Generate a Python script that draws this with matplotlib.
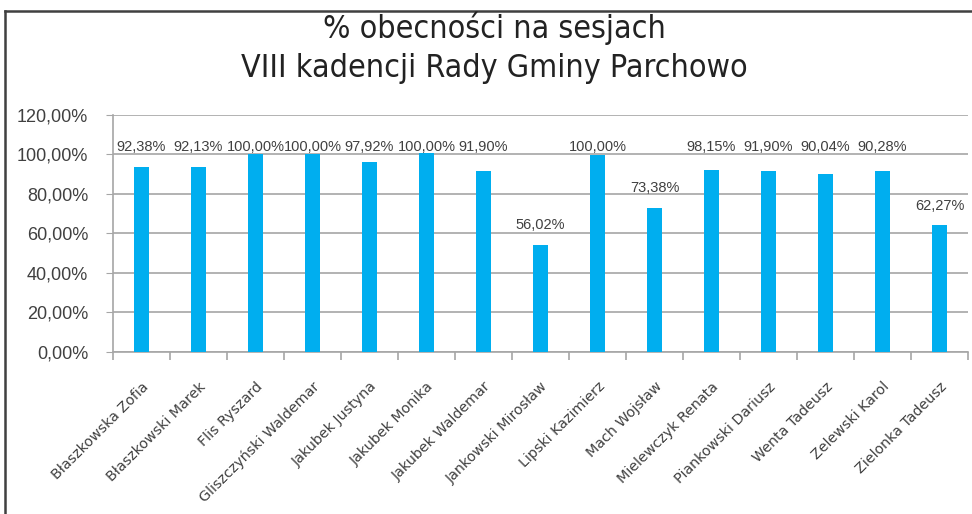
import numpy as np
import matplotlib
matplotlib.use("Agg")
import matplotlib.pyplot as plt
from matplotlib.lines import Line2D

# data
names = ['Błaszkowska Zofia', 'Błaszkowski Marek', 'Flis Ryszard',
         'Gliszczyński Waldemar', 'Jakubek Justyna', 'Jakubek Monika',
         'Jakubek Waldemar', 'Jankowski Mirosław', 'Lipski Kazimierz',
         'Mach Wojsław', 'Mielewczyk Renata', 'Piankowski Dariusz',
         'Wenta Tadeusz', 'Zelewski Karol', 'Zielonka Tadeusz']
label_values = [92.38, 92.13, 100.00, 100.00, 97.92, 100.00, 91.90, 56.02,
                100.00, 73.38, 98.15, 91.90, 90.04, 90.28, 62.27]
bar_heights = [93.4, 93.4, 100.0, 100.0, 96.3, 100.8, 91.5, 54.1,
               99.5, 72.8, 92.0, 91.5, 90.0, 91.5, 64.0]
yticks = [0, 20, 40, 60, 80, 100, 120]

bar_color = '#00aeef'
grid_color = '#a6a6a6'
text_color = '#404040'

W, H = 972, 514
fig = plt.figure(figsize=(W / 100, H / 100), dpi=100)
fig.patch.set_facecolor('white')

ax = fig.add_axes([113 / W, 1 - 351.7 / H, (968 - 113) / W, (351.7 - 115) / H])

x = np.arange(len(names))
ax.bar(x, bar_heights, width=0.28, color=bar_color, zorder=3)

ax.set_xlim(-0.5, len(names) - 0.5)
ax.set_ylim(0, 120)
ax.set_yticks(yticks)
ax.set_yticklabels(['%d,00%%' % v for v in yticks],
                   fontfamily='Liberation Sans', fontsize=13, color=text_color)
ax.yaxis.grid(True, color=grid_color, linewidth=1.2, zorder=0)
ax.tick_params(axis='y', length=5, color=grid_color, pad=13)

# category labels on major ticks, boundary ticks as minor
ax.set_xticks(x)
ax.set_xticklabels(names, rotation=45, ha='right', va='top',
                   rotation_mode='anchor', fontfamily='DejaVu Sans',
                   fontsize=10.3, color=text_color)
ax.tick_params(axis='x', which='major', length=0, pad=20)
ax.set_xticks(np.arange(-0.5, len(names)), minor=True)
ax.tick_params(axis='x', which='minor', length=6, color=grid_color, width=1.2)

for side in ['top', 'right']:
    ax.spines[side].set_visible(False)
for side in ['left', 'bottom']:
    ax.spines[side].set_color(grid_color)
    ax.spines[side].set_linewidth(1.2)

# labels of the tall bars share one row above the 100% line
for xi, h, v in zip(x, bar_heights, label_values):
    ly = 103.9 if h > 85 else h + 10
    ax.text(xi, ly, ('%.2f%%' % v).replace('.', ','),
            ha='center', va='center', fontfamily='Liberation Sans',
            fontsize=10.5, color=text_color, zorder=4)

fig.text(494 / W, 1 - 28 / H, '% obecności na sesjach', ha='center', va='center',
         fontfamily='DejaVu Sans', fontstretch='condensed', fontsize=23,
         color='#222222')
fig.text(494 / W, 1 - 68 / H, 'VIII kadencji Rady Gminy Parchowo', ha='center',
         va='center', fontfamily='DejaVu Sans', fontstretch='condensed',
         fontsize=23, color='#222222')

# outer frame (top and left edges visible)
fig.add_artist(Line2D([5 / W, 1], [1 - 11 / H, 1 - 11 / H],
                      transform=fig.transFigure, color='#404040', linewidth=1.8))
fig.add_artist(Line2D([5 / W, 5 / W], [0, 1 - 11 / H],
                      transform=fig.transFigure, color='#404040', linewidth=1.8))

fig.savefig('out.png', dpi=100)
